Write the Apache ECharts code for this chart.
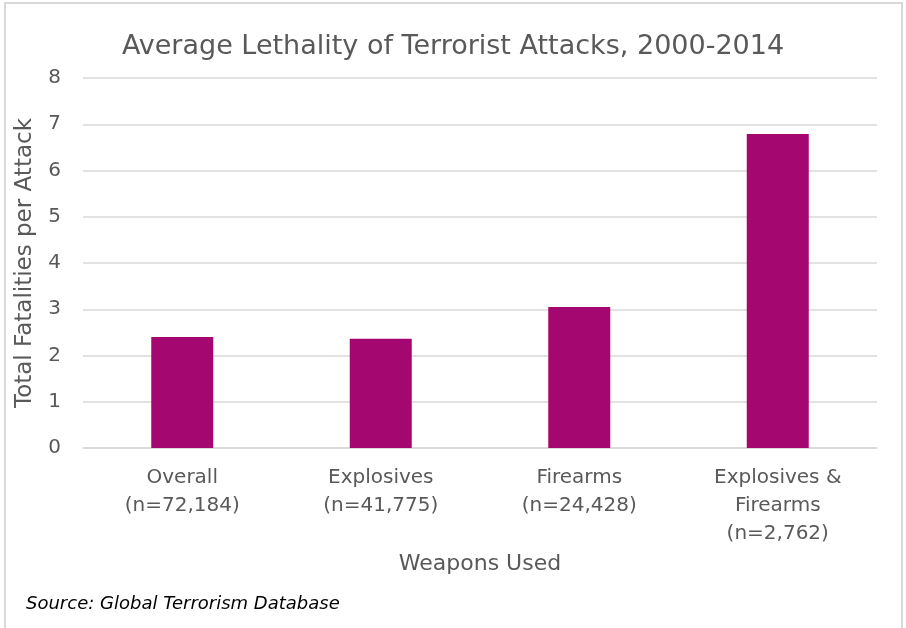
<!DOCTYPE html>
<html><head><meta charset="utf-8">
<script src="https://cdn.jsdelivr.net/npm/echarts@6/dist/echarts.min.js"></script>
<style>html,body{margin:0;padding:0;background:#fff}#c{width:906px;height:628px}</style>
</head><body><div id="c"></div>
<script>
const categories = ['Overall\n(n=72,184)', 'Explosives\n(n=41,775)', 'Firearms\n(n=24,428)', 'Explosives &\nFirearms\n(n=2,762)'];
const fatalitiesPerAttack = [2.40, 2.36, 3.05, 6.79];
const yTicks = [0, 1, 2, 3, 4, 5, 6, 7, 8];

const chart = echarts.init(document.getElementById('c'), null, {renderer: 'canvas'});
chart.setOption({
  animation: false,
  backgroundColor: '#fff',
  title: {
    text: 'Average Lethality of Terrorist Attacks, 2000-2014',
    left: 'center', top: 28,
    textStyle: {color: '#595959', fontSize: 27, fontWeight: 'normal', fontFamily: 'DejaVu Sans'}
  },
  graphic: [
    {type: 'rect', shape: {x: 5, y: 3, width: 897, height: 640}, style: {fill: 'none', stroke: '#d9d9d9', lineWidth: 2}, silent: true},
    {type: 'text', left: 26, top: 595, style: {text: 'Source: Global Terrorism Database', fill: '#000', font: 'italic 18px "DejaVu Sans"'}}
  ],
  grid: {left: 83, right: 29, top: 78, bottom: 180},
  xAxis: {
    type: 'category', data: categories,
    name: 'Weapons Used', nameLocation: 'middle', nameGap: 104,
    nameTextStyle: {color: '#595959', fontSize: 22, fontFamily: 'DejaVu Sans'},
    axisLine: {show: true, lineStyle: {color: '#d9d9d9', width: 1.5}},
    axisTick: {show: false},
    axisLabel: {color: '#595959', fontSize: 20, lineHeight: 28, margin: 16, fontFamily: 'DejaVu Sans', interval: 0}
  },
  yAxis: {
    type: 'value', min: yTicks[0], max: yTicks[yTicks.length - 1], interval: 1,
    name: 'Total Fatalities per Attack', nameLocation: 'middle', nameGap: 46,
    nameTextStyle: {color: '#595959', fontSize: 23, fontFamily: 'DejaVu Sans'},
    axisLine: {show: false}, axisTick: {show: false},
    axisLabel: {color: '#595959', fontSize: 20, margin: 22, fontFamily: 'DejaVu Sans'},
    splitLine: {lineStyle: {color: '#d9d9d9', width: 1.5}}
  },
  series: [{
    type: 'bar', data: fatalitiesPerAttack, barWidth: 62,
    itemStyle: {color: '#a50770'}
  }]
});
</script></body></html>
